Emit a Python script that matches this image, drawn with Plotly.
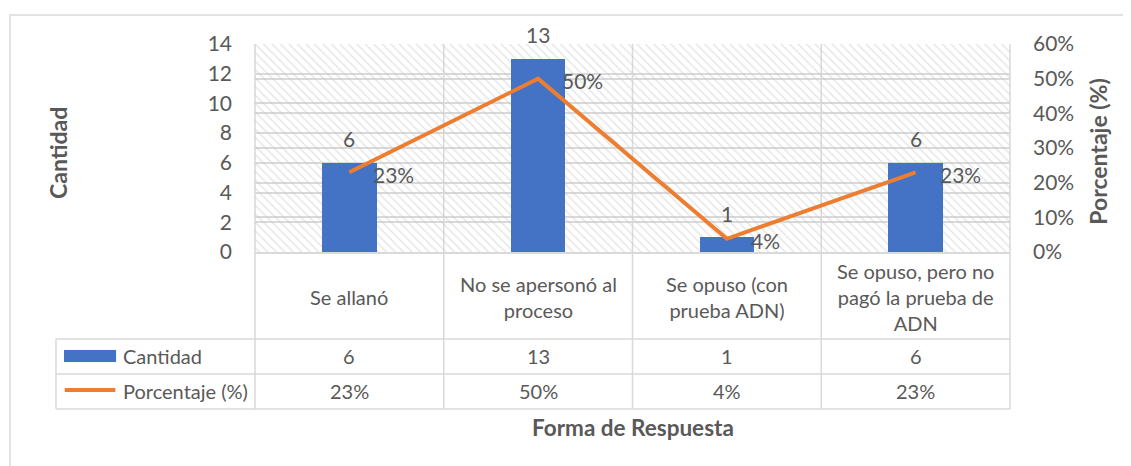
import plotly.graph_objects as go

# DATA

categorias = ["Se allanó", "No se apersonó al proceso", "Se opuso (con prueba ADN)",
              "Se opuso, pero no pagó la prueba de ADN"]
etiquetas = ["Se allanó", "No se apersonó al<br>proceso", "Se opuso (con<br>prueba ADN)",
             "Se opuso, pero no<br>pagó la prueba de<br>ADN"]
cantidad = [6, 13, 1, 6]
porcentaje = [0.23, 0.50, 0.038, 0.23]
y1_ticks = [0, 2, 4, 6, 8, 10, 12, 14]

# STYLE

FONT = "Lato"
TXT = "#595959"
GRID = "#d9d9d9"
AZUL = "#4472C4"
NARANJA = "#ED7D31"


def txt(x, y, text, size=20, xref="paper", yref="paper", **kw):
    d = dict(x=x, y=y, xref=xref, yref=yref, text=text, showarrow=False,
             xanchor="center", yanchor="middle", font=dict(size=size, color=TXT, family=FONT))
    d.update(kw)
    return d


fig = go.Figure()

# hatched plot-area background
fig.add_trace(go.Bar(
    x=categorias, y=[max(y1_ticks)] * len(categorias), width=1,
    marker=dict(color="rgba(0,0,0,0)", line=dict(width=0),
                pattern=dict(shape="\\", fgcolor="#c8c8c8", bgcolor="rgba(0,0,0,0)",
                             size=6, solidity=0.22)),
    hoverinfo="skip", showlegend=False))

fig.add_trace(go.Bar(
    x=categorias, y=cantidad, width=0.29, name="Cantidad",
    marker=dict(color=AZUL, line=dict(width=0))))

fig.add_trace(go.Scatter(
    x=categorias, y=porcentaje, yaxis="y2", mode="lines", name="Porcentaje (%)",
    line=dict(color=NARANJA, width=4)))

ann = []
for c, v in zip(categorias, cantidad):
    ann.append(txt(c, v, str(v), 21, "x", "y", yshift=24))
for c, p in zip(categorias, porcentaje):
    ann.append(txt(c, p, f"{p:.0%}", 21, "x", "y2", xanchor="left", xshift=22, yshift=-2))

# data table text
for c, e, v, p in zip(categorias, etiquetas, cantidad, porcentaje):
    ann.append(txt(c, -0.214, e, 20, "x"))
    ann.append(txt(c, -0.5, str(v), 20, "x"))
    ann.append(txt(c, -0.668, f"{p:.0%}", 20, "x"))
ann.append(txt(-0.1775, -0.5, "Cantidad", 20, xanchor="left"))
ann.append(txt(-0.1775, -0.668, "Porcentaje (%)", 20, xanchor="left"))

# axis titles
ann.append(txt(-0.261, 0.476, "<b>Cantidad</b>", 23, textangle=-90))
ann.append(txt(1.1166, 0.482, "<b>Porcentaje (%)</b>", 23, textangle=-90))
ann.append(txt(0.5, -0.846, "<b>Forma de Respuesta</b>", 22.5))

shapes = []
ln = dict(color=GRID, width=1.5)
# outer chart border
shapes.append(dict(type="rect", xref="paper", yref="paper", x0=-0.3245, x1=1.2,
                   y0=-1.1, y1=1.139, line=ln, layer="below"))
# vertical lines (plot area + table)
for xp in [0, 0.25, 0.5, 0.75, 1]:
    shapes.append(dict(type="line", xref="paper", yref="paper", x0=xp, x1=xp,
                       y0=-0.755, y1=1, line=ln, layer="below"))
shapes.append(dict(type="line", xref="paper", yref="paper", x0=-0.2636, x1=-0.2636,
                   y0=-0.755, y1=-0.418, line=ln))
for yp in [-0.418, -0.587, -0.755]:
    shapes.append(dict(type="line", xref="paper", yref="paper", x0=-0.2636, x1=1,
                       y0=yp, y1=yp, line=ln))
# legend keys
shapes.append(dict(type="rect", xref="paper", yref="paper", x0=-0.253, x1=-0.184,
                   y0=-0.529, y1=-0.471, fillcolor=AZUL, line=dict(width=0)))
shapes.append(dict(type="line", xref="paper", yref="paper", x0=-0.252, x1=-0.185,
                   y0=-0.663, y1=-0.663, line=dict(color=NARANJA, width=4)))

# page body has an 8px margin, so the figure is 8px smaller and shifted
fig.update_layout(
    width=1123, height=458,
    margin=dict(l=247, r=121, t=36, b=214),
    paper_bgcolor="white", plot_bgcolor="white",
    font=dict(family=FONT, color=TXT),
    barmode="overlay", bargap=0,
    showlegend=False,
    annotations=ann, shapes=shapes,
    xaxis=dict(showticklabels=False, showgrid=False, zeroline=False, showline=True,
               linecolor=GRID, linewidth=1.5, ticks=""),
    yaxis=dict(range=[0, 14], tickvals=y1_ticks, showgrid=True, gridcolor=GRID,
               gridwidth=1.5, zeroline=False, ticklabelstandoff=22,
               tickfont=dict(size=21, color=TXT)),
    yaxis2=dict(range=[0, 0.6], dtick=0.1, tickformat=".0%", overlaying="y", side="right",
                showgrid=True, gridcolor=GRID, gridwidth=1.5, zeroline=False,
                ticklabelstandoff=22, tickfont=dict(size=21, color=TXT)),
)

fig.write_html("out.html")
